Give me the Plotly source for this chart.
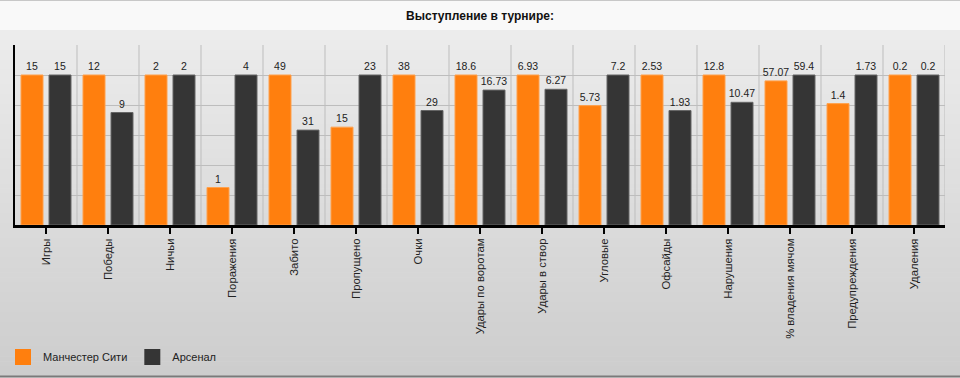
import plotly.graph_objects as go

categories = ["Игры", "Победы", "Ничьи", "Поражения", "Забито", "Пропущено", "Очки",
              "Удары по воротам", "Удары в створ", "Угловые", "Офсайды", "Нарушения",
              "% владения мячом", "Предупреждения", "Удаления"]
city = [15, 12, 2, 1, 49, 15, 38, 18.6, 6.93, 5.73, 2.53, 12.8, 57.07, 1.4, 0.2]
arsenal = [15, 9, 2, 4, 31, 23, 29, 16.73, 6.27, 7.2, 1.93, 10.47, 59.4, 1.73, 0.2]
series_names = ["Манчестер Сити", "Арсенал"]
title_text = "Выступление в турнире:"

ORANGE = "#ff7f0e"
DARK = "#353535"
FONT = "Liberation Sans, Arial, sans-serif"

# heights are shown relative to the larger value of each pair (percent)
mx = [max(a, b) for a, b in zip(city, arsenal)]
city_pct = [v / m * 100 for v, m in zip(city, mx)]
ars_pct = [v / m * 100 for v, m in zip(arsenal, mx)]

def fmt(v):
    return f"{v:g}"

fig = go.Figure()
fig.add_trace(go.Bar(x=categories, y=city_pct, name=series_names[0],
                     marker=dict(color=ORANGE, line=dict(color="#ffa14d", width=1)),
                     text=[fmt(v) for v in city], textposition="outside",
                     constraintext="none",
                     textfont=dict(family=FONT, size=10.5, color="#222"),
                     cliponaxis=False, showlegend=False, hoverinfo="skip"))
fig.add_trace(go.Bar(x=categories, y=ars_pct, name=series_names[1],
                     marker=dict(color=DARK, line=dict(color="#666666", width=1)),
                     text=[fmt(v) for v in arsenal], textposition="outside",
                     constraintext="none",
                     textfont=dict(family=FONT, size=10.5, color="#222"),
                     cliponaxis=False, showlegend=False, hoverinfo="skip"))
# legend entries with larger square swatches
for name, col in zip(series_names, [ORANGE, DARK]):
    fig.add_trace(go.Scatter(x=[None], y=[None], mode="markers", name=name,
                             marker=dict(symbol="square", size=16, color=col,
                                         line=dict(width=0)),
                             showlegend=True, hoverinfo="skip"))

W, H = 960, 378
L, R, T, B = 15, 15, 45, 153
pw, ph = W - L - R, H - T - B

def px_x(p):
    return (p - L) / pw

def px_y(p):
    return (H - B - p) / ph

shapes = []
# background gradient bands (body)
top_c, bot_c = 236, 205
y0 = 30
n = 70
step = (376 - y0) / n
for i in range(n):
    a = y0 + i * step
    b = a + step + 0.6
    c = round(top_c + (bot_c - top_c) * (i / (n - 1)))
    shapes.append(dict(type="rect", xref="paper", yref="paper", layer="below",
                       x0=px_x(0), x1=px_x(W), y0=px_y(b), y1=px_y(a),
                       fillcolor=f"rgb({c},{c},{c})", line=dict(width=0)))
# title band
shapes.append(dict(type="rect", xref="paper", yref="paper", layer="below",
                   x0=px_x(0), x1=px_x(W), y0=px_y(30), y1=px_y(1),
                   fillcolor="#f9f9f9", line=dict(width=0)))
# top border line
shapes.append(dict(type="line", xref="paper", yref="paper", layer="below",
                   x0=px_x(0), x1=px_x(W), y0=px_y(0.5), y1=px_y(0.5),
                   line=dict(color="#c8c8c8", width=1)))
# bottom border line
shapes.append(dict(type="line", xref="paper", yref="paper", layer="below",
                   x0=px_x(0), x1=px_x(W), y0=px_y(376.5), y1=px_y(376.5),
                   line=dict(color="#7a7a7a", width=2)))
# vertical grid lines at category boundaries
for i in range(len(categories)):
    shapes.append(dict(type="line", xref="x", yref="paper", layer="below",
                       x0=i + 0.5, x1=i + 0.5, y0=0, y1=1,
                       line=dict(color="#bdbdbd", width=1)))

fig.update_layout(
    width=W, height=H,
    margin=dict(l=L, r=R, t=T, b=B, pad=0, autoexpand=False),
    paper_bgcolor="#ebebeb",
    plot_bgcolor="rgba(0,0,0,0)",
    barmode="group", bargap=0.097, bargroupgap=0.214,
    title=dict(text="<b>" + title_text + "</b>", x=0.5, xanchor="center",
               y=1 - 16 / H, yanchor="middle", yref="container",
               font=dict(family=FONT, size=12, color="#111")),
    font=dict(family=FONT, size=12, color="#222"),
    xaxis=dict(type="category", range=[-0.5, len(categories) - 0.5],
               showgrid=False, showline=True, linecolor="#000", linewidth=3,
               ticks="outside", ticklen=6, tickwidth=2, tickcolor="#000",
               tickangle=-90, tickfont=dict(family=FONT, size=11.3, color="#222"),
               fixedrange=True, zeroline=False, automargin=False),
    yaxis=dict(range=[0, 120], dtick=20, showgrid=True, gridcolor="#bdbdbd",
               gridwidth=1, showticklabels=False, ticks="",
               showline=True, linecolor="#000", linewidth=2,
               zeroline=False, fixedrange=True, automargin=False),
    legend=dict(orientation="h", x=px_x(3), xanchor="left",
                y=px_y(357), yanchor="middle",
                font=dict(family=FONT, size=11, color="#222"),
                bgcolor="rgba(0,0,0,0)", itemclick=False, itemdoubleclick=False),
    shapes=shapes,
    showlegend=True,
)

fig.write_html("out.html", config={"displayModeBar": False},
               post_script="document.body.style.margin='0';document.body.style.overflow='hidden';")
